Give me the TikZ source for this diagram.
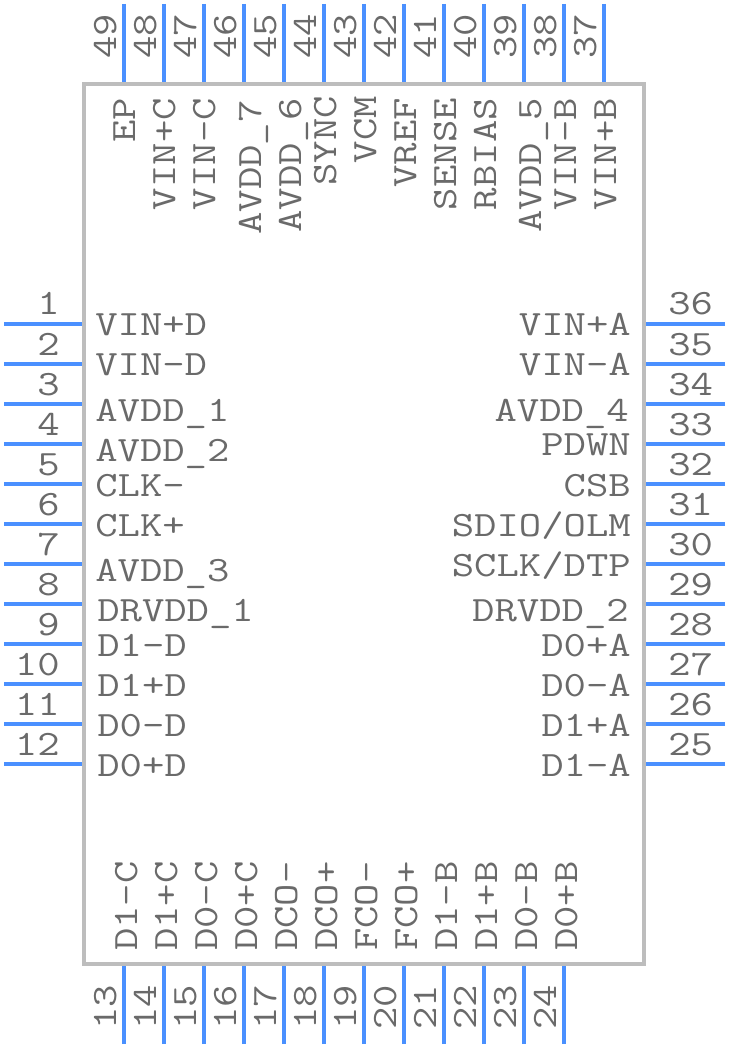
\documentclass[tikz,border=0pt]{standalone}
\usepackage{fontspec}
\setmonofont[FakeStretch=1.22]{Latin Modern Mono}
\definecolor{pinblue}{HTML}{4A90FF}
\definecolor{bodygray}{HTML}{BDBDBD}
\definecolor{textgray}{HTML}{6A6A6A}
\tikzset{
	pinline/.style={pinblue,line width=3pt},
	padtext/.style={textgray,font=\fontsize{26.7}{30}\selectfont\ttfamily},
	padleft/.style={padtext,anchor=base west},
	padright/.style={padtext,anchor=base east},
	padup/.style={padtext,rotate=90,anchor=base east},
	paddown/.style={padtext,rotate=90,anchor=base west}
}
\begin{document}
\begin{tikzpicture}[x=0.75pt,y=0.75pt]
	\tikzstyle{every node}+=[inner sep=0pt]
	\useasboundingbox (0,0) rectangle (728,-1048);
	% package outline
	\node [draw=bodygray,line width=3pt,minimum width=420pt,minimum height=660pt] (chip) at (364,-524) {};
	% left side
	\coordinate (a1) at (4,-324);
	\coordinate (a2) at (4,-364);
	\coordinate (a3) at (4,-404);
	\coordinate (a4) at (4,-444);
	\coordinate (a5) at (4,-484);
	\coordinate (a6) at (4,-524);
	\coordinate (a7) at (4,-564);
	\coordinate (a8) at (4,-604);
	\coordinate (a9) at (4,-644);
	\coordinate (a10) at (4,-684);
	\coordinate (a11) at (4,-724);
	\coordinate (a12) at (4,-764);
	\draw [pinline] (a1) -- (a1 -| chip.west);
	\draw [pinline] (a2) -- (a2 -| chip.west);
	\draw [pinline] (a3) -- (a3 -| chip.west);
	\draw [pinline] (a4) -- (a4 -| chip.west);
	\draw [pinline] (a5) -- (a5 -| chip.west);
	\draw [pinline] (a6) -- (a6 -| chip.west);
	\draw [pinline] (a7) -- (a7 -| chip.west);
	\draw [pinline] (a8) -- (a8 -| chip.west);
	\draw [pinline] (a9) -- (a9 -| chip.west);
	\draw [pinline] (a10) -- (a10 -| chip.west);
	\draw [pinline] (a11) -- (a11 -| chip.west);
	\draw [pinline] (a12) -- (a12 -| chip.west);
	\node [padright] (n1) at (60,-315) {1};
	\node [padright] (n2) at (60,-355) {2};
	\node [padright] (n3) at (60,-395) {3};
	\node [padright] (n4) at (60,-435) {4};
	\node [padright] (n5) at (60,-475) {5};
	\node [padright] (n6) at (60,-515) {6};
	\node [padright] (n7) at (60,-555) {7};
	\node [padright] (n8) at (60,-595) {8};
	\node [padright] (n9) at (60,-635) {9};
	\node [padright] (n10) at (60,-675) {10};
	\node [padright] (n11) at (60,-715) {11};
	\node [padright] (n12) at (60,-755) {12};
	\node [padleft] (vinpd) at (95,-335) {VIN+D};
	\node [padleft] (vinmd) at (95,-375) {VIN-D};
	\node [padleft] (avdda) at (95,-421) {AVDD\_1};
	\node [padleft] (avddb) at (95,-461) {AVDD\_2};
	\node [padleft] (clkm) at (95,-496) {CLK-};
	\node [padleft] (clkp) at (95,-536) {CLK+};
	\node [padleft] (avddc) at (95,-581) {AVDD\_3};
	\node [padleft] (drvdda) at (97,-621) {DRVDD\_1};
	\node [padleft] (donemd) at (97,-656) {D1-D};
	\node [padleft] (donepd) at (97,-696) {D1+D};
	\node [padleft] (dzeromd) at (97,-736) {D0-D};
	\node [padleft] (dzeropd) at (97,-776) {D0+D};
	% right side
	\coordinate (a36) at (725,-324);
	\coordinate (a35) at (725,-364);
	\coordinate (a34) at (725,-404);
	\coordinate (a33) at (725,-444);
	\coordinate (a32) at (725,-484);
	\coordinate (a31) at (725,-524);
	\coordinate (a30) at (725,-564);
	\coordinate (a29) at (725,-604);
	\coordinate (a28) at (725,-644);
	\coordinate (a27) at (725,-684);
	\coordinate (a26) at (725,-724);
	\coordinate (a25) at (725,-764);
	\draw [pinline] (a36) -- (a36 -| chip.east);
	\draw [pinline] (a35) -- (a35 -| chip.east);
	\draw [pinline] (a34) -- (a34 -| chip.east);
	\draw [pinline] (a33) -- (a33 -| chip.east);
	\draw [pinline] (a32) -- (a32 -| chip.east);
	\draw [pinline] (a31) -- (a31 -| chip.east);
	\draw [pinline] (a30) -- (a30 -| chip.east);
	\draw [pinline] (a29) -- (a29 -| chip.east);
	\draw [pinline] (a28) -- (a28 -| chip.east);
	\draw [pinline] (a27) -- (a27 -| chip.east);
	\draw [pinline] (a26) -- (a26 -| chip.east);
	\draw [pinline] (a25) -- (a25 -| chip.east);
	\node [padleft] (n36) at (668,-315) {36};
	\node [padleft] (n35) at (668,-355) {35};
	\node [padleft] (n34) at (668,-395) {34};
	\node [padleft] (n33) at (668,-435) {33};
	\node [padleft] (n32) at (668,-475) {32};
	\node [padleft] (n31) at (668,-515) {31};
	\node [padleft] (n30) at (668,-555) {30};
	\node [padleft] (n29) at (668,-595) {29};
	\node [padleft] (n28) at (668,-635) {28};
	\node [padleft] (n27) at (668,-675) {27};
	\node [padleft] (n26) at (668,-715) {26};
	\node [padleft] (n25) at (668,-755) {25};
	\node [padright] (vinpa) at (631,-335) {VIN+A};
	\node [padright] (vinma) at (631,-375) {VIN-A};
	\node [padright] (avddd) at (629,-421) {AVDD\_4};
	\node [padright] (pdwn) at (631,-455) {PDWN};
	\node [padright] (csb) at (631,-496) {CSB};
	\node [padright] (sdio) at (631,-536) {SDIO/OLM};
	\node [padright] (sclk) at (631,-576) {SCLK/DTP};
	\node [padright] (drvddb) at (629,-621) {DRVDD\_2};
	\node [padright] (dzeropa) at (631,-656) {D0+A};
	\node [padright] (dzeroma) at (631,-696) {D0-A};
	\node [padright] (donepa) at (631,-736) {D1+A};
	\node [padright] (donema) at (631,-776) {D1-A};
	% top side
	\coordinate (a49) at (124,-4);
	\coordinate (a48) at (164,-4);
	\coordinate (a47) at (204,-4);
	\coordinate (a46) at (244,-4);
	\coordinate (a45) at (284,-4);
	\coordinate (a44) at (324,-4);
	\coordinate (a43) at (364,-4);
	\coordinate (a42) at (404,-4);
	\coordinate (a41) at (444,-4);
	\coordinate (a40) at (484,-4);
	\coordinate (a39) at (524,-4);
	\coordinate (a38) at (564,-4);
	\coordinate (a37) at (604,-4);
	\draw [pinline] (a49) -- (a49 |- chip.north);
	\draw [pinline] (a48) -- (a48 |- chip.north);
	\draw [pinline] (a47) -- (a47 |- chip.north);
	\draw [pinline] (a46) -- (a46 |- chip.north);
	\draw [pinline] (a45) -- (a45 |- chip.north);
	\draw [pinline] (a44) -- (a44 |- chip.north);
	\draw [pinline] (a43) -- (a43 |- chip.north);
	\draw [pinline] (a42) -- (a42 |- chip.north);
	\draw [pinline] (a41) -- (a41 |- chip.north);
	\draw [pinline] (a40) -- (a40 |- chip.north);
	\draw [pinline] (a39) -- (a39 |- chip.north);
	\draw [pinline] (a38) -- (a38 |- chip.north);
	\draw [pinline] (a37) -- (a37 |- chip.north);
	\node [paddown] (n49) at (116,-59) {49};
	\node [paddown] (n48) at (156,-59) {48};
	\node [paddown] (n47) at (196,-59) {47};
	\node [paddown] (n46) at (236,-59) {46};
	\node [paddown] (n45) at (276,-59) {45};
	\node [paddown] (n44) at (316,-59) {44};
	\node [paddown] (n43) at (356,-59) {43};
	\node [paddown] (n42) at (396,-59) {42};
	\node [paddown] (n41) at (436,-59) {41};
	\node [paddown] (n40) at (476,-59) {40};
	\node [paddown] (n39) at (516,-59) {39};
	\node [paddown] (n38) at (556,-59) {38};
	\node [paddown] (n37) at (596,-59) {37};
	\node [padup] (ep) at (135,-98) {EP};
	\node [padup] (vinpc) at (175,-98) {VIN+C};
	\node [padup] (vinmc) at (215,-98) {VIN-C};
	\node [padup] (avddg) at (261,-100) {AVDD\_7};
	\node [padup] (avddf) at (301,-98) {AVDD\_6};
	\node [padup] (sync) at (336,-96) {SYNC};
	\node [padup] (vcm) at (376,-96) {VCM};
	\node [padup] (vref) at (416,-98) {VREF};
	\node [padup] (sense) at (456,-98) {SENSE};
	\node [padup] (rbias) at (496,-98) {RBIAS};
	\node [padup] (avdde) at (541,-98) {AVDD\_5};
	\node [padup] (vinmb) at (576,-98) {VIN-B};
	\node [padup] (vinpb) at (616,-98) {VIN+B};
	% bottom side
	\coordinate (a13) at (124,-1044);
	\coordinate (a14) at (164,-1044);
	\coordinate (a15) at (204,-1044);
	\coordinate (a16) at (244,-1044);
	\coordinate (a17) at (284,-1044);
	\coordinate (a18) at (324,-1044);
	\coordinate (a19) at (364,-1044);
	\coordinate (a20) at (404,-1044);
	\coordinate (a21) at (444,-1044);
	\coordinate (a22) at (484,-1044);
	\coordinate (a23) at (524,-1044);
	\coordinate (a24) at (564,-1044);
	\draw [pinline] (a13) -- (a13 |- chip.south);
	\draw [pinline] (a14) -- (a14 |- chip.south);
	\draw [pinline] (a15) -- (a15 |- chip.south);
	\draw [pinline] (a16) -- (a16 |- chip.south);
	\draw [pinline] (a17) -- (a17 |- chip.south);
	\draw [pinline] (a18) -- (a18 |- chip.south);
	\draw [pinline] (a19) -- (a19 |- chip.south);
	\draw [pinline] (a20) -- (a20 |- chip.south);
	\draw [pinline] (a21) -- (a21 |- chip.south);
	\draw [pinline] (a22) -- (a22 |- chip.south);
	\draw [pinline] (a23) -- (a23 |- chip.south);
	\draw [pinline] (a24) -- (a24 |- chip.south);
	\node [paddown] (n13) at (116,-1030) {13};
	\node [paddown] (n14) at (156,-1030) {14};
	\node [paddown] (n15) at (196,-1030) {15};
	\node [paddown] (n16) at (236,-1030) {16};
	\node [paddown] (n17) at (276,-1030) {17};
	\node [paddown] (n18) at (316,-1030) {18};
	\node [paddown] (n19) at (356,-1030) {19};
	\node [paddown] (n20) at (396,-1030) {20};
	\node [paddown] (n21) at (436,-1030) {21};
	\node [paddown] (n22) at (476,-1030) {22};
	\node [paddown] (n23) at (516,-1030) {23};
	\node [paddown] (n24) at (556,-1030) {24};
	\node [paddown] (donemc) at (137,-951) {D1-C};
	\node [paddown] (donepc) at (177,-951) {D1+C};
	\node [paddown] (dzeromc) at (217,-951) {D0-C};
	\node [paddown] (dzeropc) at (257,-951) {D0+C};
	\node [paddown] (dcom) at (297,-951) {DCO-};
	\node [paddown] (dcop) at (337,-951) {DCO+};
	\node [paddown] (fcom) at (377,-951) {FCO-};
	\node [paddown] (fcop) at (417,-951) {FCO+};
	\node [paddown] (donemb) at (457,-951) {D1-B};
	\node [paddown] (donepb) at (497,-951) {D1+B};
	\node [paddown] (dzeromb) at (537,-951) {D0-B};
	\node [paddown] (dzeropb) at (577,-951) {D0+B};
\end{tikzpicture}
\end{document}
